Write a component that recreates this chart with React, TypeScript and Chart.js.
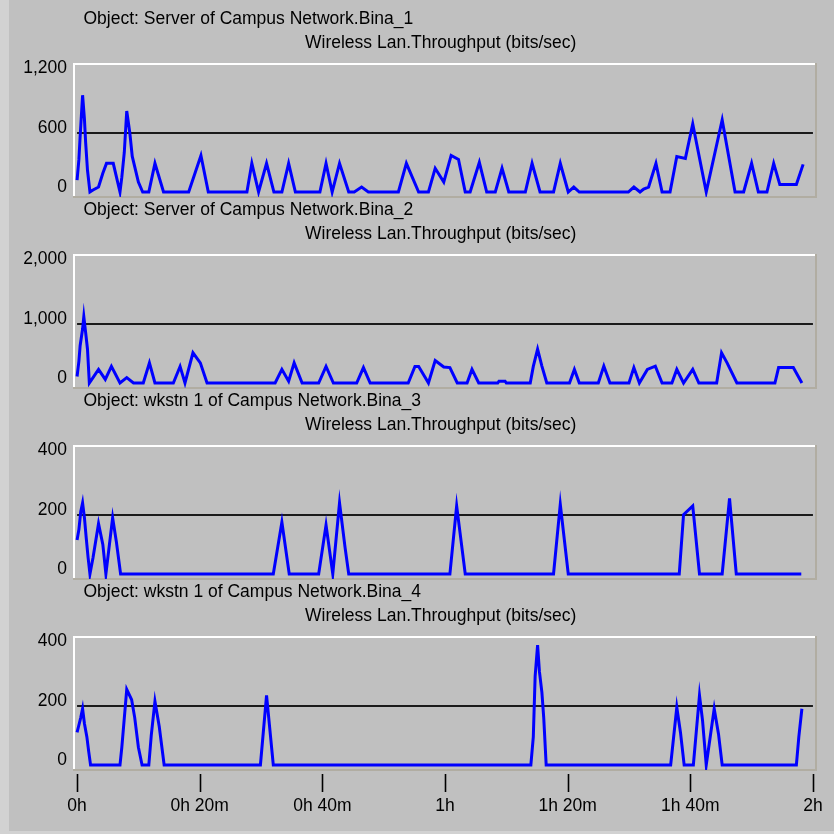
import React, { useEffect, useRef } from "react";
import { Chart, registerables } from "chart.js";

Chart.register(...registerables);

// ---- Axis / text data ----
const timeTickMinutes = [0, 20, 40, 60, 80, 100, 120];
const timeTickLabels = ["0h", "0h 20m", "0h 40m", "1h", "1h 20m", "1h 40m", "2h"];

const panelTitles = [
  "Object: Server of Campus Network.Bina_1",
  "Object: Server of Campus Network.Bina_2",
  "Object: wkstn 1 of Campus Network.Bina_3",
  "Object: wkstn 1 of Campus Network.Bina_4",
];
const panelSubtitle = "Wireless Lan.Throughput (bits/sec)";
const panelAxisMax = [1200, 2000, 400, 400];

// ---- Series data (minutes, bits/sec) ----
const bina1Minutes = [0, 0.3, 0.5, 0.7, 0.9, 1.2, 1.4, 1.7, 2.1, 2.6, 3.5, 4.2, 4.8, 5.9, 7.0, 7.3, 7.7, 8.1, 8.6, 9.0, 10.0, 10.7, 11.7, 12.7, 14.1, 18.2, 20.2, 21.4, 27.7, 28.5, 29.6, 30.9, 32.1, 33.4, 34.5, 35.6, 39.6, 40.6, 41.6, 42.8, 44.3, 45.2, 46.4, 47.5, 52.4, 53.7, 55.7, 57.3, 58.4, 59.8, 61.0, 62.2, 63.3, 64.1, 65.6, 66.8, 68.2, 69.3, 70.4, 73.1, 74.2, 75.5, 77.7, 78.8, 80.1, 81.0, 81.9, 89.9, 90.8, 91.8, 92.4, 93.2, 94.4, 95.4, 96.7, 97.8, 99.2, 100.4, 102.6, 105.2, 107.3, 108.7, 110.0, 111.1, 112.5, 113.6, 114.6, 117.3, 118.4];
const bina1Values = [120, 330, 560, 770, 980, 740, 500, 220, 0, 20, 50, 190, 290, 290, 0, 150, 400, 820, 600, 360, 100, 0, 0, 290, 0, 0, 370, 0, 0, 290, 0, 290, 0, 0, 290, 0, 0, 290, 0, 290, 0, 0, 50, 0, 0, 290, 0, 0, 240, 100, 370, 330, 0, 0, 300, 0, 0, 240, 0, 0, 290, 0, 0, 290, 0, 50, 0, 0, 50, 0, 30, 50, 290, 0, 0, 360, 340, 690, 0, 730, 0, 0, 290, 0, 0, 290, 75, 75, 280];

const bina2Minutes = [0, 0.3, 0.5, 0.9, 1.1, 1.4, 1.7, 2.0, 2.6, 3.5, 4.6, 5.6, 7.0, 8.1, 9.2, 10.8, 11.8, 12.7, 15.7, 16.8, 17.6, 18.9, 20.1, 21.2, 32.3, 33.4, 34.5, 35.4, 36.7, 39.4, 40.6, 41.8, 45.6, 46.7, 47.8, 54.0, 55.1, 55.7, 56.8, 57.3, 58.4, 59.8, 60.8, 62.0, 63.6, 64.4, 65.5, 68.6, 68.8, 69.8, 70.0, 73.9, 74.4, 75.1, 75.8, 76.6, 80.3, 81.1, 81.9, 85.0, 85.9, 86.9, 90.0, 90.8, 91.7, 93.0, 94.3, 95.4, 97.0, 97.8, 98.9, 100.4, 101.4, 104.3, 105.1, 106.0, 107.6, 113.8, 114.4, 116.8, 118.2];
const bina2Values = [110, 370, 630, 910, 1120, 850, 570, 0, 90, 230, 60, 280, 0, 90, 0, 0, 340, 0, 0, 280, 0, 510, 340, 0, 0, 230, 30, 340, 0, 0, 280, 0, 0, 260, 0, 0, 280, 280, 90, 0, 380, 270, 260, 0, 0, 230, 0, 0, 30, 30, 0, 0, 280, 570, 285, 0, 0, 230, 0, 0, 285, 0, 0, 260, 0, 230, 285, 0, 0, 230, 0, 230, 0, 0, 510, 340, 0, 0, 260, 260, 0];

const bina3Minutes = [0, 0.3, 0.6, 0.9, 1.2, 1.5, 1.8, 2.1, 2.6, 3.5, 4.2, 4.7, 5.8, 6.4, 7.1, 32.0, 33.4, 34.6, 39.4, 40.6, 41.7, 42.8, 43.7, 44.3, 60.8, 61.9, 63.3, 77.7, 78.8, 80.1, 98.2, 98.9, 100.4, 101.5, 105.2, 106.4, 107.5, 118.1];
const bina3Values = [115, 150, 210, 240, 190, 120, 55, 0, 55, 170, 100, 0, 190, 110, 0, 0, 175, 0, 0, 165, 0, 240, 90, 0, 0, 230, 0, 0, 235, 0, 0, 200, 230, 0, 0, 255, 0, 0];

const bina4Minutes = [0, 0.3, 0.6, 0.9, 1.2, 1.6, 1.9, 2.2, 7.0, 7.3, 8.1, 8.9, 9.4, 10.0, 10.6, 11.7, 12.1, 12.7, 13.4, 14.2, 29.9, 30.9, 32.0, 74.0, 74.4, 74.7, 75.1, 75.4, 75.8, 76.1, 76.5, 96.8, 97.8, 98.4, 99.0, 100.5, 101.5, 102.0, 102.6, 103.9, 104.6, 105.2, 117.3, 117.7, 118.2];
const bina4Values = [110, 135, 160, 190, 140, 95, 45, 0, 0, 60, 255, 220, 160, 60, 0, 0, 100, 215, 130, 0, 0, 235, 0, 0, 95, 300, 405, 315, 245, 160, 0, 0, 195, 110, 0, 0, 235, 150, 0, 190, 105, 0, 0, 95, 190];

const seriesMinutes = [bina1Minutes, bina2Minutes, bina3Minutes, bina4Minutes];
const seriesValues = [bina1Values, bina2Values, bina3Values, bina4Values];

const FONT_FAMILY = '"Liberation Sans", Arial, sans-serif';
const FONT_SIZE = 17.5;
const PANEL_STEP = 191;

function makePanelPlugin(index: number) {
  const max = panelAxisMax[index];
  const isLast = index === panelAxisMax.length - 1;
  return {
    id: "opnetPanel" + index,
    beforeDatasetsDraw(chart: any) {
      const { ctx, chartArea } = chart;
      const { left, right, top, bottom } = chartArea;
      const xs = chart.scales.x;
      const ys = chart.scales.y;
      ctx.save();
      // frame (3D look)
      ctx.fillStyle = "#ffffff";
      ctx.fillRect(left - 1, top - 1, right - left + 2, 2);
      ctx.fillRect(left - 1, top - 1, 2, bottom - top + 2);
      ctx.fillStyle = "#b1ada2";
      ctx.fillRect(left - 1, bottom - 1, right - left + 2, 2);
      ctx.fillRect(right - 1, top - 1, 2, bottom - top + 2);
      // mid reference line
      const yMid = Math.round(ys.getPixelForValue(max / 2));
      const x0 = xs.getPixelForValue(timeTickMinutes[0]);
      const x1 = xs.getPixelForValue(timeTickMinutes[timeTickMinutes.length - 1]);
      ctx.fillStyle = "#1a1a1a";
      ctx.fillRect(x0, yMid - 1, x1 - x0, 2);
      // time tick marks (bottom panel only)
      if (isLast) {
        ctx.strokeStyle = "#000";
        ctx.lineWidth = 1.6;
        for (const m of timeTickMinutes) {
          const px = Math.round(xs.getPixelForValue(m)) + 0.5;
          ctx.beginPath();
          ctx.moveTo(px, bottom + 4);
          ctx.lineTo(px, bottom + 22);
          ctx.stroke();
        }
      }
      ctx.restore();
    },
    afterDraw(chart: any) {
      const { ctx, chartArea } = chart;
      ctx.save();
      ctx.fillStyle = "#000";
      ctx.font = `${FONT_SIZE}px ${FONT_FAMILY}`;
      ctx.textBaseline = "middle";
      ctx.textAlign = "left";
      ctx.fillText(panelTitles[index], chartArea.left + 9.5, 19);
      ctx.fillText(panelSubtitle, chartArea.left + 231, 43.5);
      ctx.restore();
    },
  };
}

export default function App() {
  const refs = [
    useRef<HTMLCanvasElement>(null),
    useRef<HTMLCanvasElement>(null),
    useRef<HTMLCanvasElement>(null),
    useRef<HTMLCanvasElement>(null),
  ];

  useEffect(() => {
    const charts: Chart[] = [];
    refs.forEach((ref, i) => {
      const canvas = ref.current;
      if (!canvas) return;
      const max = panelAxisMax[i];
      const isLast = i === panelAxisMax.length - 1;
      const font = { family: FONT_FAMILY, size: FONT_SIZE };
      const chart = new Chart(canvas, {
        type: "line",
        data: {
          datasets: [
            {
              data: seriesMinutes[i].map((m, k) => ({ x: m, y: seriesValues[i][k] })),
              borderColor: "#0000ff",
              borderWidth: 3,
              pointRadius: 0,
              tension: 0,
              fill: false,
            },
          ],
        },
        options: {
          animation: false,
          responsive: false,
          maintainAspectRatio: false,
          events: [],
          layout: { padding: { top: 64, right: 18, bottom: isLast ? 0 : 3, left: 0 } },
          plugins: {
            legend: { display: false },
            tooltip: { enabled: false },
            title: { display: false },
          },
          scales: {
            x: {
              type: "linear",
              display: isLast,
              min: -0.5,
              max: 120.5,
              grid: { display: false, drawTicks: false },
              border: { display: false },
              afterBuildTicks: (s: any) => {
                s.ticks = timeTickMinutes.map((v) => ({ value: v }));
              },
              afterFit: (s: any) => {
                if (isLast) {
                  s.height = 64;
                  s.paddingLeft = 0;
                  s.paddingRight = 0;
                }
              },
              ticks: {
                autoSkip: false,
                maxRotation: 0,
                padding: 26,
                color: "#000",
                font,
                callback: (v: any) => {
                  const idx = timeTickMinutes.indexOf(Number(v));
                  return idx >= 0 ? timeTickLabels[idx] : "";
                },
              },
            },
            y: {
              type: "linear",
              min: -max * 0.0422,
              max: max * 1.0802,
              grid: { display: false, drawTicks: false },
              border: { display: false },
              afterBuildTicks: (s: any) => {
                s.ticks = [0, max / 2, max].map((v) => ({ value: v }));
              },
              afterFit: (s: any) => {
                s.width = 74;
                s.paddingTop = 0;
                s.paddingBottom = 0;
              },
              ticks: {
                padding: 7,
                labelOffset: -5,
                color: "#000",
                font,
                callback: (v: any) => Number(v).toLocaleString("en-US"),
              },
            },
          },
        },
        plugins: [makePanelPlugin(i)],
      });
      charts.push(chart);
    });
    return () => charts.forEach((c) => c.destroy());
  }, []);

  const heights = [200, 200, 200, 261];

  return (
    <div
      style={{
        position: "fixed",
        left: 0,
        top: 0,
        width: 834,
        height: 834,
        background: "#d2d2d2",
        overflow: "hidden",
      }}
    >
      <div
        style={{
          position: "absolute",
          left: 9,
          top: 0,
          width: 825,
          height: 831,
          background: "#c0c0c0",
        }}
      />
      {refs.map((ref, i) => (
        <canvas
          key={i}
          ref={ref}
          width={834}
          height={heights[i]}
          style={{
            position: "absolute",
            left: 0,
            top: i * PANEL_STEP,
            width: 834,
            height: heights[i],
          }}
        />
      ))}
    </div>
  );
}
